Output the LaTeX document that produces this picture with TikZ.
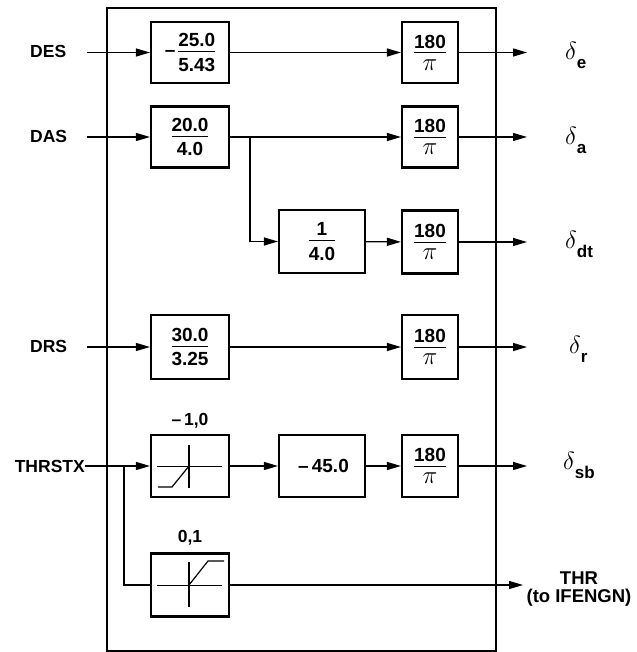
\documentclass[tikz,border=0pt]{standalone}
\usepackage{fontspec}
\setmainfont{Liberation Sans}
\usetikzlibrary{arrows.meta}
\newcommand{\frcbox}[2]{\vbox{\fontsize{19}{21}\selectfont\bfseries\halign{\hfil##\hfil\cr #1\cr\noalign{\kern4pt\hrule height0.9pt\kern6pt}#2\cr}}}
\newcommand{\frc}[2]{\ensuremath{\vcenter{\frcbox{#1}{#2}}}}
\newcommand{\piv}{{\fontsize{24}{24}\selectfont$\pi$}}
\newcommand{\dlt}[1]{{\fontsize{24}{24}\selectfont$\delta$}\raisebox{-9pt}{\fontsize{17}{17}\selectfont\bfseries #1}}
\begin{document}
\begin{tikzpicture}[x=1pt,y=-1pt,
  font=\fontsize{17.5}{21}\selectfont\bfseries,
  blk/.style={draw, line width=2.1pt, inner sep=0pt, minimum width=78pt, minimum height=61pt},
  wblk/.style={blk, minimum width=86pt},
  rblk/.style={blk, minimum width=56pt},
  arr/.style={-{Triangle[length=14pt,width=8pt]}, line width=1.2pt},
  ln/.style={line width=1.2pt},
  thin/.style={line width=0.7pt},
  lbl/.style={inner sep=0pt}]
\useasboundingbox (0,0) rectangle (636,652);
\draw[line width=1.3pt] (107,8) rectangle (496,651);
% gain blocks
\node[blk] (g1) at (190,52.5) {{\fontsize{19}{21}\selectfont--}\,\frc{25.0}{5.43}};
\node[blk] (g2) at (190,137) {\frc{20.0}{4.0}};
\node[wblk, minimum height=63pt] (q) at (322,241.5) {\frc{1}{4.0}};
\node[blk, minimum height=64pt] (g4) at (190,347) {\frc{30.0}{3.25}};
\node[blk, minimum height=62pt] (s1) at (190,466) {};
\node[wblk, minimum height=62pt, font=\fontsize{19}{21}\selectfont\bfseries] (k) at (322,466) {\hspace{3pt}--\,45.0};
\node[blk, minimum height=63pt] (s2) at (190,585) {};
% 180/pi blocks
\node[rblk] (r1) at (430,52.5) {\frc{180}{\piv}};
\node[rblk] (r2) at (430,137) {\frc{180}{\piv}};
\node[rblk, minimum height=63pt] (r3) at (430,242) {\frc{180}{\piv}};
\node[rblk, minimum height=64pt] (r4) at (430,347) {\frc{180}{\piv}};
\node[rblk, minimum height=62pt] (r5) at (430,466) {\frc{180}{\piv}};
% saturation symbols
\draw[thin] (157,466) -- (222,466);
\draw[ln] (189,445) -- (189,488);
\draw[ln] (158,487) -- (172,487) -- (189,466);
\draw[thin] (157,585) -- (222,585);
\draw[ln] (189,562) -- (189,607);
\draw[ln] (189,585) -- (208,561) -- (224,561);
\node[lbl] (l1) at (190,421) {--\,1,0};
\node[lbl] (l2) at (190,538) {0,1};
% inputs
\node[lbl, anchor=west] (des) at (30,51.5) {DES};
\node[lbl, anchor=west] (das) at (30,136.5) {DAS};
\node[lbl, anchor=west] (drs) at (30,346.5) {DRS};
\node[lbl, anchor=east] (thr) at (85,466) {THRSTX};
\coordinate (i1) at (87,52.5);
\coordinate (i2) at (87,137);
\coordinate (i4) at (87,347);
\coordinate (b2) at (250,137);
\coordinate (b5) at (124,466);
% outputs
\coordinate (o1) at (527,52.5);
\coordinate (o2) at (527,137);
\coordinate (o3) at (527,242);
\coordinate (o4) at (527,347);
\coordinate (o5) at (527,466);
\coordinate (o6) at (523,585);
\node[lbl, anchor=west] (d1) at (565,55) {\dlt{e}};
\node[lbl, anchor=west] (d2) at (565,140) {\dlt{a}};
\node[lbl, anchor=west] (d3) at (565,244) {\dlt{dt}};
\node[lbl, anchor=west] (d4) at (569,349) {\dlt{r}};
\node[lbl, anchor=west] (d5) at (563,465) {\dlt{sb}};
\node[lbl, align=center, font=\fontsize{18.5}{18}\selectfont\bfseries] (thrl) at (579,589) {THR\\(to IFENGN)};
% connectors
\draw[arr] (i1) -- (g1);
\draw[arr] (g1) -- (r1);
\draw[arr] (r1) -- (o1);
\draw[arr] (i2) -- (g2);
\draw[arr] (g2) -- (r2);
\draw[arr] (r2) -- (o2);
\draw[arr] (b2) |- (q);
\draw[arr] (q) -- (r3);
\draw[arr] (r3) -- (o3);
\draw[arr] (i4) -- (g4);
\draw[arr] (g4) -- (r4);
\draw[arr] (r4) -- (o4);
\draw[arr] (thr.east) -- (s1);
\draw[ln] (b5) |- (s2.west);
\draw[arr] (s1) -- (k);
\draw[arr] (k) -- (r5);
\draw[arr] (r5) -- (o5);
\draw[arr] (s2) -- (o6);
\end{tikzpicture}
\end{document}
